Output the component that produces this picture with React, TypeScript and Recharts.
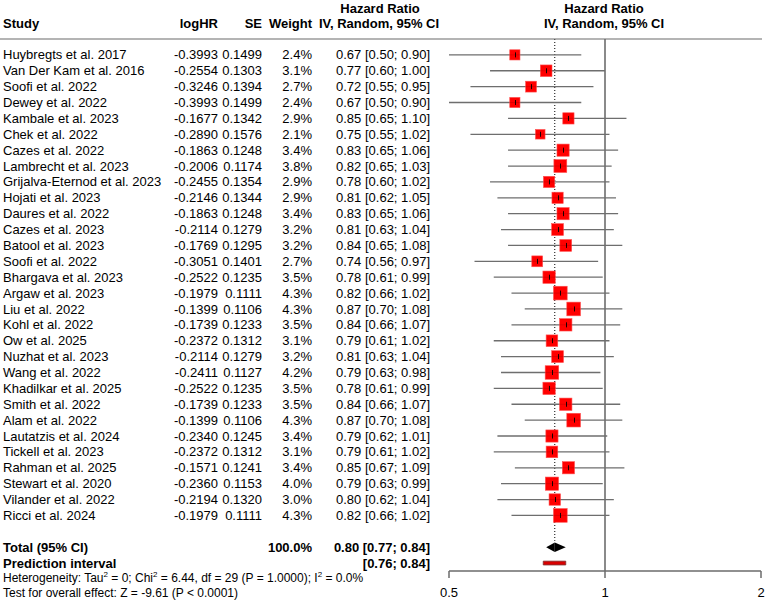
import React from 'react';
import { ScatterChart, Scatter, XAxis, YAxis, ReferenceLine, ReferenceArea } from 'recharts';

const FONT = '"Liberation Sans", Arial, Helvetica, sans-serif';

const studies = [
  'Huybregts et al. 2017', 'Van Der Kam et al. 2016', 'Soofi et al. 2022', 'Dewey et al. 2022',
  'Kambale et al. 2023', 'Chek et al. 2022', 'Cazes et al. 2022', 'Lambrecht et al. 2023',
  'Grijalva-Eternod et al. 2023', 'Hojati et al. 2023', 'Daures et al. 2022', 'Cazes et al. 2023',
  'Batool et al. 2023', 'Soofi et al. 2022', 'Bhargava et al. 2023', 'Argaw et al. 2023',
  'Liu et al. 2022', 'Kohl et al. 2022', 'Ow et al. 2025', 'Nuzhat et al. 2023',
  'Wang et al. 2022', 'Khadilkar et al. 2025', 'Smith et al. 2022', 'Alam et al. 2022',
  'Lautatzis et al. 2024', 'Tickell et al. 2023', 'Rahman et al. 2025', 'Stewart et al. 2020',
  'Vilander et al. 2022', 'Ricci et al. 2024',
];
const logHR = [
  -0.3993, -0.2554, -0.3246, -0.3993, -0.1677, -0.289, -0.1863, -0.2006, -0.2455, -0.2146,
  -0.1863, -0.2114, -0.1769, -0.3051, -0.2522, -0.1979, -0.1399, -0.1739, -0.2372, -0.2114,
  -0.2411, -0.2522, -0.1739, -0.1399, -0.234, -0.2372, -0.1571, -0.236, -0.2194, -0.1979,
];
const seVals = [
  0.1499, 0.1303, 0.1394, 0.1499, 0.1342, 0.1576, 0.1248, 0.1174, 0.1354, 0.1344,
  0.1248, 0.1279, 0.1295, 0.1401, 0.1235, 0.1111, 0.1106, 0.1233, 0.1312, 0.1279,
  0.1127, 0.1235, 0.1233, 0.1106, 0.1245, 0.1312, 0.1241, 0.1153, 0.132, 0.1111,
];
const weights = [
  2.4, 3.1, 2.7, 2.4, 2.9, 2.1, 3.4, 3.8, 2.9, 2.9,
  3.4, 3.2, 3.2, 2.7, 3.5, 4.3, 4.3, 3.5, 3.1, 3.2,
  4.2, 3.5, 3.5, 4.3, 3.4, 3.1, 3.4, 4.0, 3.0, 4.3,
];
const hrVals = [
  0.67, 0.77, 0.72, 0.67, 0.85, 0.75, 0.83, 0.82, 0.78, 0.81,
  0.83, 0.81, 0.84, 0.74, 0.78, 0.82, 0.87, 0.84, 0.79, 0.81,
  0.79, 0.78, 0.84, 0.87, 0.79, 0.79, 0.85, 0.79, 0.8, 0.82,
];
const lowerVals = [
  0.5, 0.6, 0.55, 0.5, 0.65, 0.55, 0.65, 0.65, 0.6, 0.62,
  0.65, 0.63, 0.65, 0.56, 0.61, 0.66, 0.7, 0.66, 0.61, 0.63,
  0.63, 0.61, 0.66, 0.7, 0.62, 0.61, 0.67, 0.63, 0.62, 0.66,
];
const upperVals = [
  0.9, 1.0, 0.95, 0.9, 1.1, 1.02, 1.06, 1.03, 1.02, 1.05,
  1.06, 1.04, 1.08, 0.97, 0.99, 1.02, 1.08, 1.07, 1.02, 1.04,
  0.98, 0.99, 1.07, 1.08, 1.01, 1.02, 1.09, 0.99, 1.04, 1.02,
];

const pooledHR = 0.8;
const pooledLower = 0.77;
const pooledUpper = 0.84;
const predLower = 0.76;
const predUpper = 0.84;
const totalWeight = '100.0%';
const xTicks = [0.5, 1, 2];

const TOTAL_ROW = 31;
const PRED_ROW = 32;

const points = studies.map((s, i) => ({ x: hrVals[i], y: i, w: weights[i] }));
const yTicks = [...studies.map((_, i) => i), TOTAL_ROW, PRED_ROW];

const f2 = (v: number) => v.toFixed(2);

const RowTick = (props: any) => {
  const { y, payload } = props;
  const v = payload.value as number;
  const t = { fontSize: 13, fontFamily: FONT, fill: '#000' } as any;
  if (v < studies.length) {
    const i = v;
    return (
      <g>
        <text x={3} y={y} dy="0.35em" {...t}>{studies[i]}</text>
        <text x={218} y={y} dy="0.35em" textAnchor="end" {...t}>{logHR[i].toFixed(4)}</text>
        <text x={262} y={y} dy="0.35em" textAnchor="end" {...t}>{seVals[i].toFixed(4)}</text>
        <text x={312} y={y} dy="0.35em" textAnchor="end" {...t}>{weights[i].toFixed(1)}%</text>
        <text x={430} y={y} dy="0.35em" textAnchor="end" {...t}>
          {`${f2(hrVals[i])} [${f2(lowerVals[i])}; ${f2(upperVals[i])}]`}
        </text>
      </g>
    );
  }
  if (v === TOTAL_ROW) {
    return (
      <g fontWeight="bold">
        <text x={3} y={y} dy="0.35em" {...t}>Total (95% CI)</text>
        <text x={312} y={y} dy="0.35em" textAnchor="end" {...t}>{totalWeight}</text>
        <text x={430} y={y} dy="0.35em" textAnchor="end" {...t}>
          {`${f2(pooledHR)} [${f2(pooledLower)}; ${f2(pooledUpper)}]`}
        </text>
      </g>
    );
  }
  if (v === PRED_ROW) {
    return (
      <g fontWeight="bold">
        <text x={3} y={y} dy="0.35em" {...t}>Prediction interval</text>
        <text x={430} y={y} dy="0.35em" textAnchor="end" {...t}>
          {`[${f2(predLower)}; ${f2(predUpper)}]`}
        </text>
      </g>
    );
  }
  return null;
};

const Square = (props: any) => {
  const { cx, cy, payload } = props;
  const s = 6.6 * Math.sqrt(payload.w);
  const h = 2.5;
  const xc = Math.round(cx) + 0.5;
  return (
    <g>
      <rect x={cx - s / 2} y={cy - s / 2} width={s} height={s} fill="#FF0000" stroke="#FF5050" strokeWidth={0.6} />
      <line x1={cx - s / 2} x2={cx + s / 2} y1={cy} y2={cy} stroke="#7a0000" strokeWidth={0.6} strokeOpacity={0.4} />
      <line x1={xc} x2={xc} y1={cy - h} y2={cy + h} stroke="#000" strokeWidth={0.9} />
    </g>
  );
};

const LeftHalf = (props: any) => {
  const { x, y, width, height } = props;
  return <polygon points={`${x},${y + height / 2} ${x + width},${y} ${x + width},${y + height}`} fill="#000" />;
};
const RightHalf = (props: any) => {
  const { x, y, width, height } = props;
  return <polygon points={`${x},${y} ${x + width},${y + height / 2} ${x},${y + height}`} fill="#000" />;
};

const hdr = { fontSize: 13, fontFamily: FONT, fontWeight: 'bold', fill: '#000' } as any;
const foot = { fontSize: 12, fontFamily: FONT, fill: '#000' } as any;

export default function App() {
  return (
    <div style={{ position: 'absolute', left: 0, top: 0, width: 767, height: 603, background: '#fff' }}>
      <ScatterChart width={767} height={603} margin={{ top: 39, right: 6, bottom: 0, left: 0 }}>
        <XAxis
          type="number"
          dataKey="x"
          scale="log"
          domain={[0.5, 2]}
          ticks={xTicks}
          allowDataOverflow
          height={32}
          tickSize={7}
          tickMargin={10}
          axisLine={{ stroke: '#6b6b6b', strokeWidth: 1.5 }}
          tickLine={{ stroke: '#6b6b6b', strokeWidth: 1.5 }}
          tick={{ fontSize: 13, fontFamily: FONT, fill: '#000' }}
          tickFormatter={(v: number) => String(v)}
        />
        <YAxis
          type="number"
          dataKey="y"
          reversed
          domain={[-1, 32.5]}
          allowDataOverflow
          ticks={yTicks}
          interval={0}
          width={449}
          axisLine={false}
          tickLine={false}
          tick={<RowTick />}
        />
        <ReferenceLine x={1} stroke="#8a8a8a" strokeWidth={2} />
        <ReferenceLine
          segment={[{ x: pooledHR, y: -1 }, { x: pooledHR, y: 30.6 }]}
          stroke="#000"
          strokeWidth={1}
          strokeDasharray="1 2"
        />
        {studies.map((s, i) => (
          <ReferenceLine
            key={`ci-${i}`}
            segment={[{ x: lowerVals[i], y: i }, { x: upperVals[i], y: i }]}
            stroke="#6e6e6e"
            strokeWidth={1.3}
          />
        ))}
        <ReferenceArea x1={pooledLower} x2={pooledHR} y1={TOTAL_ROW - 0.3} y2={TOTAL_ROW + 0.3} shape={<LeftHalf />} />
        <ReferenceArea x1={pooledHR} x2={pooledUpper} y1={TOTAL_ROW - 0.3} y2={TOTAL_ROW + 0.3} shape={<RightHalf />} />
        <ReferenceArea
          x1={predLower}
          x2={predUpper}
          y1={PRED_ROW - 0.12}
          y2={PRED_ROW + 0.12}
          fill="#D80000"
          fillOpacity={1}
          stroke="#7a3030"
          strokeWidth={0.8}
        />
        <Scatter data={points} shape={<Square />} isAnimationActive={false} />
      </ScatterChart>
      <svg width={767} height={603} style={{ position: 'absolute', left: 0, top: 0, pointerEvents: 'none' }}>
        <text x={3} y={23} dy="0.35em" {...hdr}>Study</text>
        <text x={218} y={23} dy="0.35em" textAnchor="end" {...hdr}>logHR</text>
        <text x={262} y={23} dy="0.35em" textAnchor="end" {...hdr}>SE</text>
        <text x={312} y={23} dy="0.35em" textAnchor="end" {...hdr}>Weight</text>
        <text x={380} y={8} dy="0.35em" textAnchor="middle" {...hdr}>Hazard Ratio</text>
        <text x={379} y={23} dy="0.35em" textAnchor="middle" {...hdr}>IV, Random, 95% CI</text>
        <text x={604} y={8} dy="0.35em" textAnchor="middle" {...hdr}>Hazard Ratio</text>
        <text x={604} y={23} dy="0.35em" textAnchor="middle" {...hdr}>IV, Random, 95% CI</text>
        <line x1={0} x2={762} y1={39} y2={39} stroke="#6b6b6b" strokeWidth={1.2} />
        <text x={3} y={578} dy="0.35em" {...foot}>
          Heterogeneity: Tau<tspan dy="-5" fontSize={8}>2</tspan>
          <tspan dy="5"> = 0; Chi</tspan><tspan dy="-5" fontSize={8}>2</tspan>
          <tspan dy="5"> = 6.44, df = 29 (P = 1.0000); I</tspan><tspan dy="-5" fontSize={8}>2</tspan>
          <tspan dy="5"> = 0.0%</tspan>
        </text>
        <text x={3} y={593} dy="0.35em" {...foot}>Test for overall effect: Z = -9.61 (P &lt; 0.0001)</text>
      </svg>
    </div>
  );
}
